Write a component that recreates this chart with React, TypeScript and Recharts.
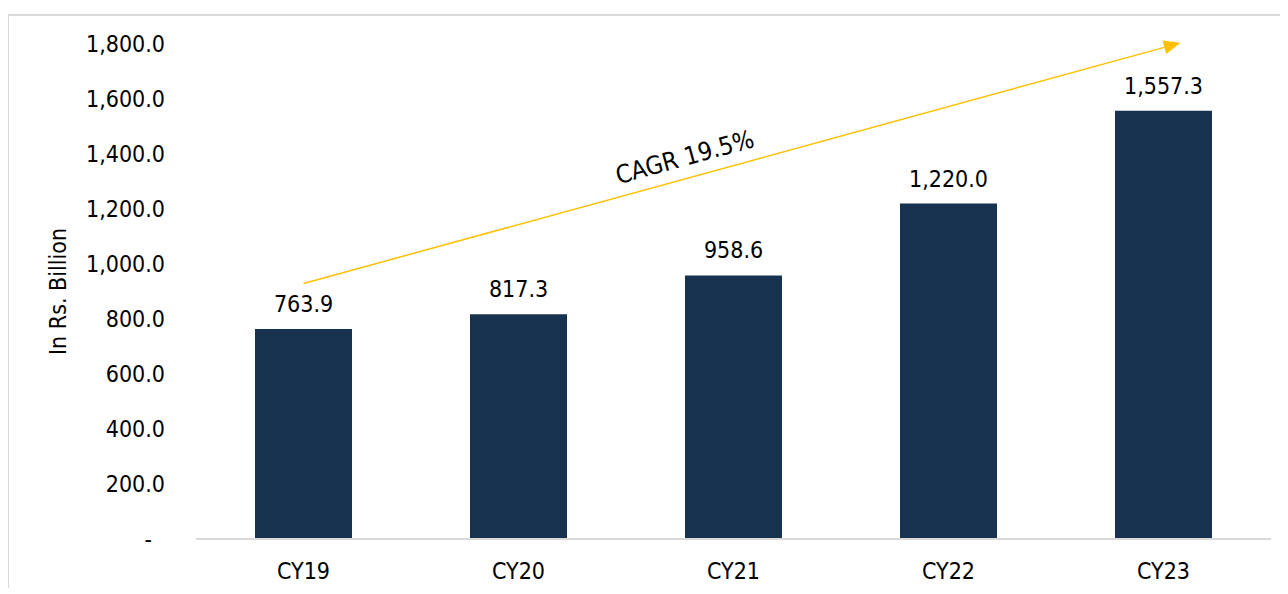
import React from 'react';
import { BarChart, Bar, XAxis, YAxis, LabelList, ReferenceLine } from 'recharts';

const categories = ['CY19', 'CY20', 'CY21', 'CY22', 'CY23'];
const values = [763.9, 817.3, 958.6, 1220.0, 1557.3];
const yTicks = [0, 200, 400, 600, 800, 1000, 1200, 1400, 1600, 1800];
const cagrLabel = 'CAGR 19.5%';
const cagrStart = { x: 'CY19', y: 929 };
const cagrEnd = { x: 'CY23', y: 1787 };
const arrowOvershoot = 0.02;

const data = categories.map((c, i) => ({ name: c, value: values[i] }));

const FONT = '"DejaVu Sans Condensed", "DejaVu Sans", sans-serif';
const FS = 23;

const fmt = (v: number) =>
  v === 0
    ? '-\u00A0\u00A0'
    : v.toLocaleString('en-US', { minimumFractionDigits: 1, maximumFractionDigits: 1 });

const ArrowShape = (props: any) => {
  const { x1: ax, y1: ay, x2: bx0, y2: by0 } = props;
  if ([ax, ay, bx0, by0].some((v) => v == null || isNaN(v))) return null;
  const x1 = ax;
  const y1 = ay;
  const x2 = ax + (bx0 - ax) * (1 + arrowOvershoot);
  const y2 = ay + (by0 - ay) * (1 + arrowOvershoot);
  const dx = x2 - x1;
  const dy = y2 - y1;
  const len = Math.sqrt(dx * dx + dy * dy);
  const ux = dx / len;
  const uy = dy / len;
  const px = uy;
  const py = -ux;
  const headLen = 17;
  const headW = 7;
  const bx = x2 - ux * headLen;
  const by = y2 - uy * headLen;
  const t = 0.441;
  const tx = x1 + dx * t + px * 21;
  const ty = y1 + dy * t + py * 21;
  const ang = (Math.atan2(dy, dx) * 180) / Math.PI;
  return (
    <g>
      <line x1={x1} y1={y1} x2={bx} y2={by} stroke="#FFC000" strokeWidth={1.5} />
      <polygon
        points={`${x2},${y2} ${bx + px * headW},${by + py * headW} ${bx - px * headW},${by - py * headW}`}
        fill="#FFC000"
      />
      <text
        x={tx}
        y={ty}
        transform={`rotate(${ang}, ${tx}, ${ty})`}
        textAnchor="middle"
        dominantBaseline="central"
        fontFamily={FONT}
        fontSize={25}
        fill="#000"
      >
        {cagrLabel}
      </text>
    </g>
  );
};

export default function App() {
  return (
    <div style={{ position: 'relative', width: 1272, height: 580 }}>
      <div
        style={{
          position: 'absolute',
          left: -1,
          top: 6,
          width: 1300,
          height: 700,
          borderLeft: '2px solid #d9d9d9',
          borderTop: '2px solid #d9d9d9',
          boxSizing: 'border-box',
        }}
      />
      <div style={{ position: 'absolute', left: 0, top: 0 }}>
        <BarChart
          width={1272}
          height={580}
          data={data}
          margin={{ top: 36, right: 9, bottom: 0, left: 0 }}
          style={{ fontFamily: FONT }}
        >
          <XAxis
            dataKey="name"
            axisLine={{ stroke: '#d9d9d9', strokeWidth: 2 }}
            tickLine={false}
            tickMargin={18}
            height={49}
            tick={{ fill: '#000', fontSize: FS, fontFamily: FONT }}
            interval={0}
          />
          <YAxis
            width={188}
            domain={[0, 1800]}
            ticks={yTicks}
            interval={0}
            axisLine={false}
            tickLine={false}
            tickSize={6}
            tickMargin={25}
            tickFormatter={fmt}
            tick={{ fill: '#000', fontSize: FS, fontFamily: FONT }}
            label={{
              content: (p: any) => {
                const vb = p.viewBox || {};
                const cx = 50;
                const cy = (vb.y || 0) + (vb.height || 0) / 2;
                return (
                  <text
                    x={cx}
                    y={cy}
                    transform={`rotate(-90, ${cx}, ${cy})`}
                    textAnchor="middle"
                    dominantBaseline="central"
                    fontFamily={FONT}
                    fontSize={FS}
                    fill="#000"
                  >
                    In Rs. Billion
                  </text>
                );
              },
            }}
          />
          <Bar dataKey="value" fill="#17324E" barSize={97} isAnimationActive={false}>
            <LabelList
              dataKey="value"
              position="top"
              offset={17}
              formatter={(v: any) => fmt(Number(v))}
              style={{ fill: '#000', fontSize: FS, fontFamily: FONT }}
            />
          </Bar>
          <ReferenceLine
            segment={[cagrStart, cagrEnd]}
            ifOverflow="visible"
            shape={ArrowShape}
          />
        </BarChart>
      </div>
    </div>
  );
}
